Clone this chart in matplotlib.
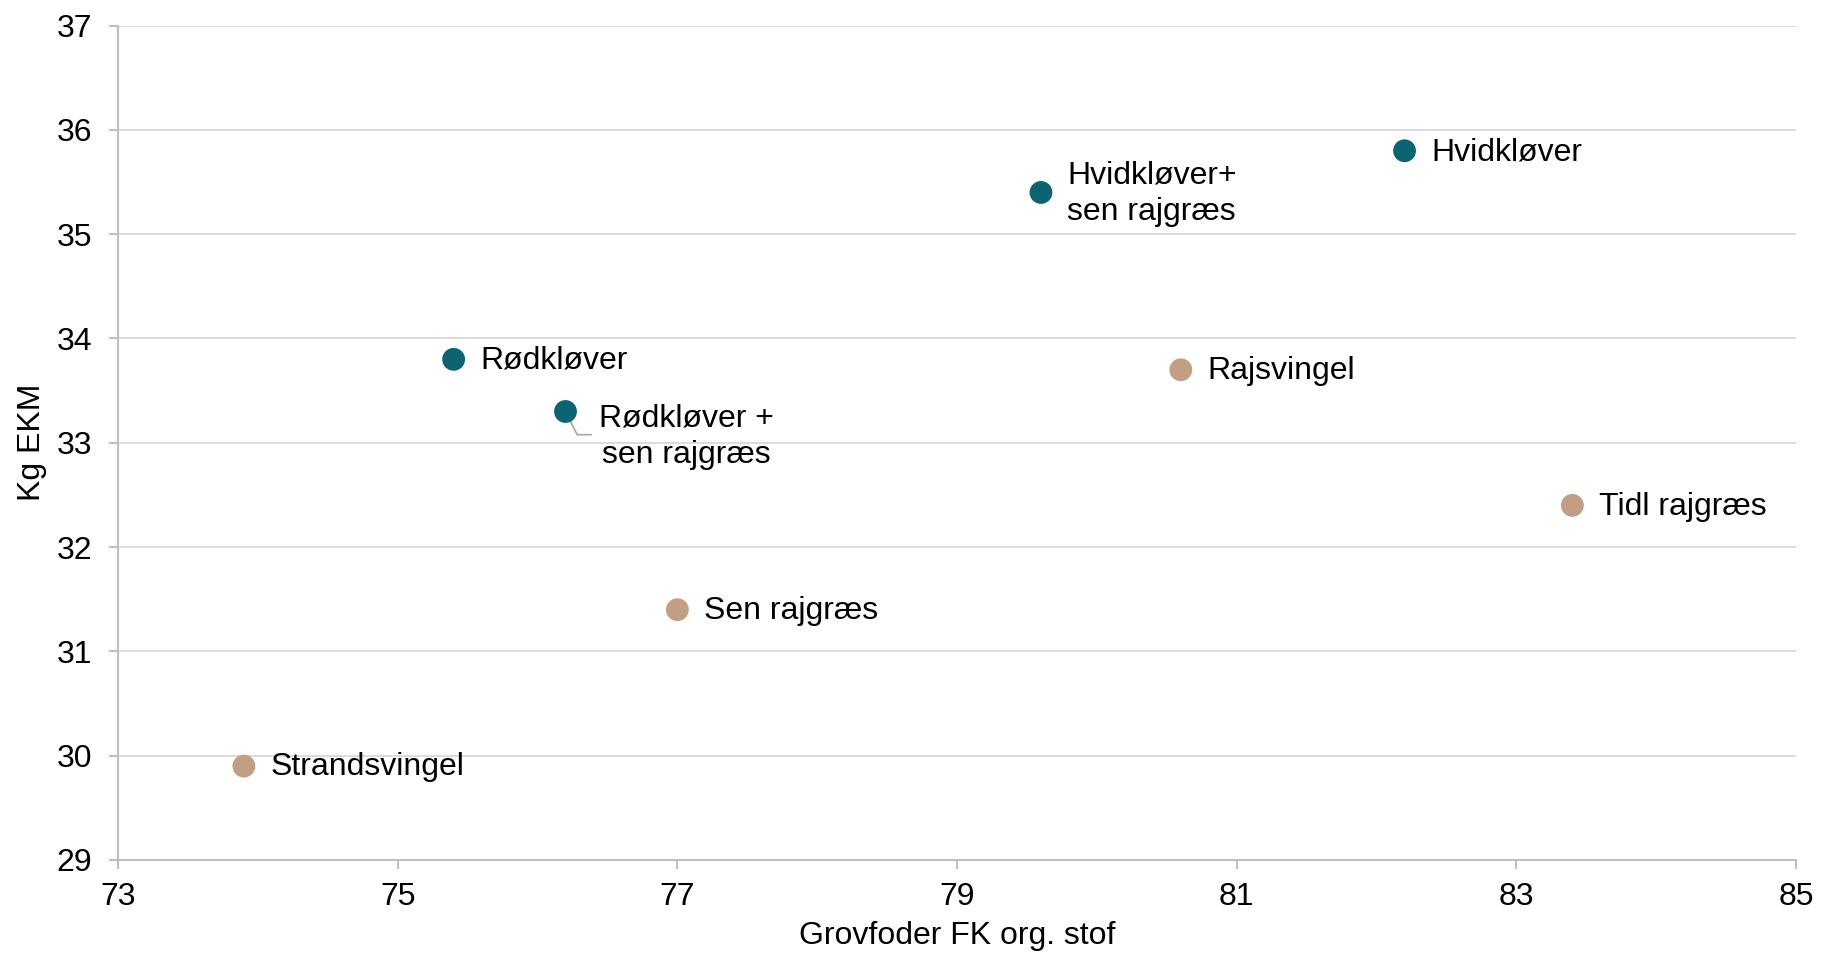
import matplotlib.pyplot as plt

plt.rcParams['font.family'] = ['Liberation Sans', 'DejaVu Sans']

TEAL = '#0b6570'
TAN = '#c29e82'

names = ['Strandsvingel', 'Rødkløver', 'Rødkløver +\nsen rajgræs', 'Sen rajgræs',
         'Hvidkløver+\nsen rajgræs', 'Rajsvingel', 'Hvidkløver', 'Tidl rajgræs']
fk = [73.9, 75.4, 76.2, 77.0, 79.6, 80.6, 82.2, 83.4]
ekm = [29.9, 33.8, 33.3, 31.4, 35.4, 33.7, 35.8, 32.4]
kloever = [False, True, True, False, True, False, True, False]

x_ticks = [73, 75, 77, 79, 81, 83, 85]
y_ticks = [29, 30, 31, 32, 33, 34, 35, 36, 37]

FS = 23

fig = plt.figure(figsize=(18.24, 9.55), dpi=100)
ax = fig.add_axes([0.0647, 0.0995, 0.92, 0.8737])

cols = [TEAL if k else TAN for k in kloever]
ax.scatter(fk, ekm, s=270, c=cols, zorder=3, linewidths=0)

for n, x, y in zip(names, fk, ekm):
    if n.startswith('Rødkløver +'):
        ax.annotate(n, (x, y), xytext=(24, -18), textcoords='offset points',
                    fontsize=FS, va='center', ha='left', multialignment='center',
                    linespacing=1.3, zorder=4)
        # leader line
        ax.annotate('', (x, y), xytext=(18.5, -16.7), textcoords='offset points',
                    arrowprops=dict(arrowstyle='-', color='#a6a6a6', lw=1.2,
                                    connectionstyle='angle,angleA=0,angleB=116.7,rad=0',
                                    shrinkA=0, shrinkB=0), zorder=2)
    else:
        ax.annotate(n, (x, y), xytext=(19, -1), textcoords='offset points',
                    fontsize=FS, va='center', ha='left', linespacing=1.3,
                    zorder=4)

ax.set_xlim(73, 85)
ax.set_ylim(29, 37)
ax.set_xticks(x_ticks)
ax.set_yticks(y_ticks)
ax.tick_params(labelsize=FS, length=6.5, color='#bfbfbf', width=1.5)
ax.tick_params(axis='x', pad=9)
ax.tick_params(axis='y', pad=12)
ax.grid(axis='y', color='#d9d9d9', linewidth=1.3)
ax.set_axisbelow(True)
for s in ['top', 'right']:
    ax.spines[s].set_visible(False)
for s in ['left', 'bottom']:
    ax.spines[s].set_color('#bfbfbf')
    ax.spines[s].set_linewidth(1.5)

ax.set_xlabel('Grovfoder FK org. stof', fontsize=FS, labelpad=7)
ax.set_ylabel('Kg EKM', fontsize=FS, labelpad=7)

fig.savefig('out.png', dpi=100)
